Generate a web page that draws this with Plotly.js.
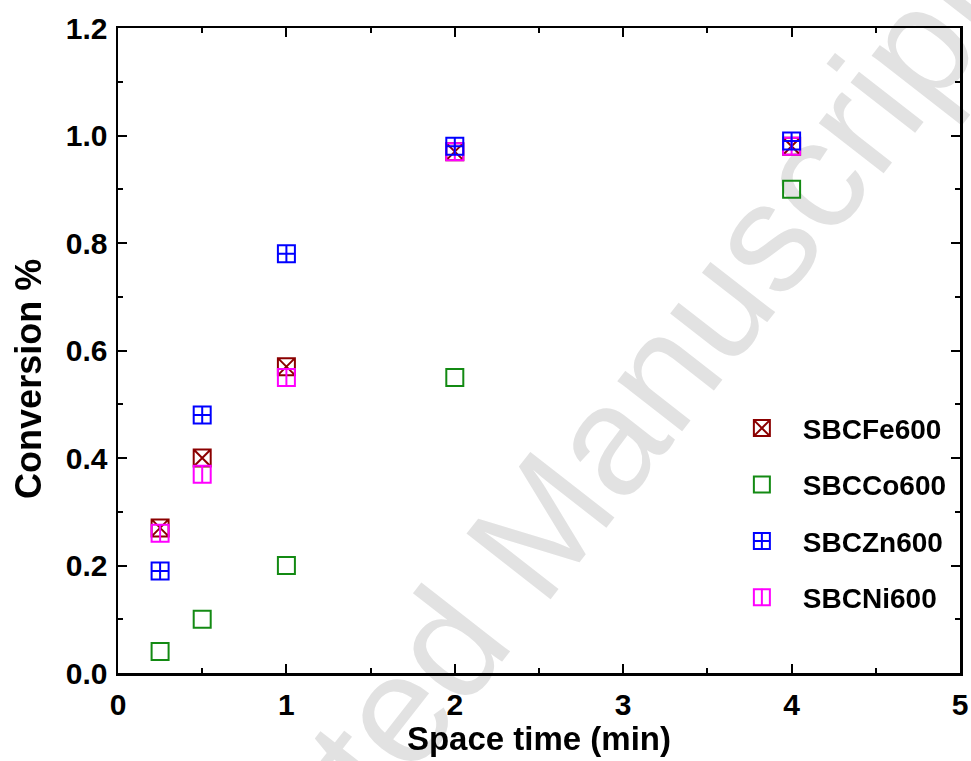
<!DOCTYPE html>
<html>
<head>
<meta charset="utf-8">
<script src="https://cdn.plot.ly/plotly-3.0.1.min.js"></script>
<style>html,body{margin:0;padding:0;background:#fff;}#chart{width:971px;height:761px;}</style>
</head>
<body>
<div id="chart"></div>
<script>
// Data
const spaceTime = [0.25, 0.5, 1, 2, 4];
const convFe = [0.27, 0.40, 0.57, 0.97, 0.98];
const convCo = [0.04, 0.10, 0.20, 0.55, 0.90];
const convZn = [0.19, 0.48, 0.78, 0.98, 0.99];
const convNi = [0.26, 0.37, 0.55, 0.97, 0.98];
const seriesNames = ['SBCFe600', 'SBCCo600', 'SBCZn600', 'SBCNi600'];
const xTickVals = [0, 1, 2, 3, 4, 5];
const yTickVals = [0, 0.2, 0.4, 0.6, 0.8, 1.0, 1.2];

const FONT = 'Liberation Sans, Arial, Helvetica, sans-serif';
const MS = 17;

function mk(name, y, symbol, color, rank, legendId, extra) {
  return Object.assign({
    type: 'scatter', mode: 'markers', x: spaceTime, y: y, name: name,
    legendgroup: name, legendrank: rank, legend: legendId || 'legend',
    hoverinfo: 'x+y+name',
    marker: {symbol: symbol, size: MS, color: color, line: {color: color, width: 2}}
  }, extra || {});
}

const traces = [
  mk(seriesNames[0], convFe, 'square-x-open', '#8b0000', 1),
  mk(seriesNames[1], convCo, 'square-open', '#138a13', 2),
  mk(seriesNames[3], convNi, 'square-open', '#ff00ff', 4),
  // vertical divider line inside the Ni squares (plot + overlay legend)
  mk(seriesNames[3], convNi, 'line-ns-open', '#ff00ff', 4, 'legend2',
     {marker: {symbol: 'line-ns-open', size: MS / 1.4, color: '#ff00ff', line: {color: '#ff00ff', width: 2}}}),
  mk(seriesNames[2], convZn, 'square-cross-open', '#0000ff', 3),
  // invisible placeholders so legend2 rows align with the main legend
  mk(seriesNames[0], convFe, 'square-open', '#8b0000', 1, 'legend2', {opacity: 0, hoverinfo: 'skip'}),
  mk(seriesNames[1], convCo, 'square-open', '#138a13', 2, 'legend2', {opacity: 0, hoverinfo: 'skip'}),
  mk(seriesNames[2], convZn, 'square-open', '#0000ff', 3, 'legend2', {opacity: 0, hoverinfo: 'skip'})
];

const axisCommon = {
  showline: true, linecolor: '#000', linewidth: 2.5, mirror: 'ticks',
  ticks: 'inside', ticklen: 9, tickwidth: 2, tickcolor: '#000',
  showgrid: false, zeroline: false,
  tickfont: {family: FONT, size: 30, color: '#000', weight: 'bold'}
};

const legendCommon = {
  x: 0.716, y: 0.418, xanchor: 'left', yanchor: 'top',
  bgcolor: 'rgba(0,0,0,0)', borderwidth: 0,
  itemwidth: 72, tracegroupgap: 17, traceorder: 'grouped',
  font: {family: FONT, size: 28, color: '#000', weight: 'bold'}
};

const layout = {
  width: 971, height: 761,
  margin: {l: 118, r: 11, t: 28, b: 88},
  paper_bgcolor: '#fff', plot_bgcolor: '#fff',
  showlegend: true,
  xaxis: Object.assign({}, axisCommon, {
    range: [0, 5], tickvals: xTickVals, ticktext: xTickVals.map(String),
    ticklabelstandoff: 3,
    minor: {dtick: 0.5, ticks: 'inside', ticklen: 5, tickwidth: 2, tickcolor: '#000'},
    title: {text: 'Space time (min)', standoff: 1,
            font: {family: FONT, size: 33, color: '#000', weight: 'bold'}}
  }),
  yaxis: Object.assign({}, axisCommon, {
    range: [0, 1.2], tickvals: yTickVals, ticktext: yTickVals.map(v => v.toFixed(1)),
    ticklabelstandoff: 2,
    minor: {dtick: 0.1, ticks: 'inside', ticklen: 5, tickwidth: 2, tickcolor: '#000'}
  }),
  legend: Object.assign({}, legendCommon),
  legend2: Object.assign({}, legendCommon, {font: Object.assign({}, legendCommon.font, {color: 'rgba(0,0,0,0)'})}),
  annotations: [{
    text: 'Conversion %', xref: 'paper', yref: 'paper', x: -0.1057, y: 0.456,
    xanchor: 'center', yanchor: 'middle', textangle: -90, showarrow: false,
    font: {family: FONT, size: 36, color: '#000', weight: 'bold'}
  }],
  shapes: [{
    type: 'rect', xref: 'paper', yref: 'paper', x0: 0.3656, x1: 0.5656, y0: 0.106, y1: 0.306,
    layer: 'below', line: {width: 0}, fillcolor: 'rgba(0,0,0,0)',
    label: {text: 'Accepted Manuscript', textangle: -52, textposition: 'middle center',
            font: {family: FONT, size: 155, color: '#e2e2e2'}}
  }]
};

Plotly.newPlot('chart', traces, layout, {displayModeBar: false, staticPlot: true});
</script>
</body>
</html>
